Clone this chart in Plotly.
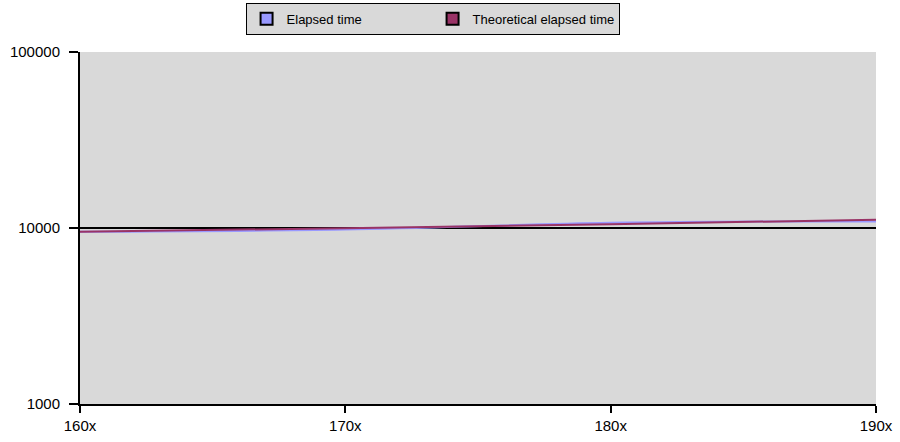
import plotly.graph_objects as go

categories = ["160x", "170x", "180x", "190x"]
elapsed = [9520, 9800, 10700, 10900]
theoretical = [9520, 9980, 10500, 11150]
y_ticks = [1000, 10000, 100000]

blue = "#9999ff"
purple = "#993366"

fig = go.Figure()
fig.add_trace(go.Scatter(x=categories, y=elapsed, mode="lines",
                         line=dict(color=blue, width=2, shape="spline"),
                         showlegend=False))
fig.add_trace(go.Scatter(x=categories, y=theoretical, mode="lines",
                         line=dict(color=purple, width=2, shape="spline"),
                         showlegend=False))
# legend entries with square markers
fig.add_trace(go.Scatter(x=[None], y=[None], mode="markers", name="Elapsed time",
                         marker=dict(symbol="square", size=6, color=blue,
                                     line=dict(color="#000000", width=1.5))))
fig.add_trace(go.Scatter(x=[None], y=[None], mode="markers", name="Theoretical elapsed time",
                         marker=dict(symbol="square", size=6, color=purple,
                                     line=dict(color="#000000", width=1.5))))

fig.update_layout(
    width=900, height=442,
    margin=dict(l=80, r=24, t=52, b=38, autoexpand=False),
    paper_bgcolor="white",
    plot_bgcolor="#d9d9d9",
    font=dict(family="Liberation Sans, Arial, sans-serif", size=15, color="#000000"),
    legend=dict(orientation="h", x=0.208, xanchor="left", y=1.14, yanchor="top",
                bgcolor="#d9d9d9", bordercolor="#000000", borderwidth=1,
                font=dict(size=13), entrywidth=141, entrywidthmode="pixels",
                itemsizing="constant"),
    xaxis=dict(type="category", categoryorder="array", categoryarray=categories,
               range=[0, 3], showgrid=False, showline=True, linecolor="#000000",
               linewidth=2, ticks="outside", ticklen=7, tickcolor="#000000",
               tickwidth=2, zeroline=False),
    yaxis=dict(type="log", range=[3, 5], tickvals=y_ticks,
               ticktext=[str(v) for v in y_ticks],
               showgrid=True, gridcolor="#000000", gridwidth=2,
               showline=True, linecolor="#000000", linewidth=2,
               ticks="outside", ticklen=9, tickcolor="#000000", tickwidth=2,
               ticklabelstandoff=6, zeroline=False),
)

fig.write_html("out.html")
